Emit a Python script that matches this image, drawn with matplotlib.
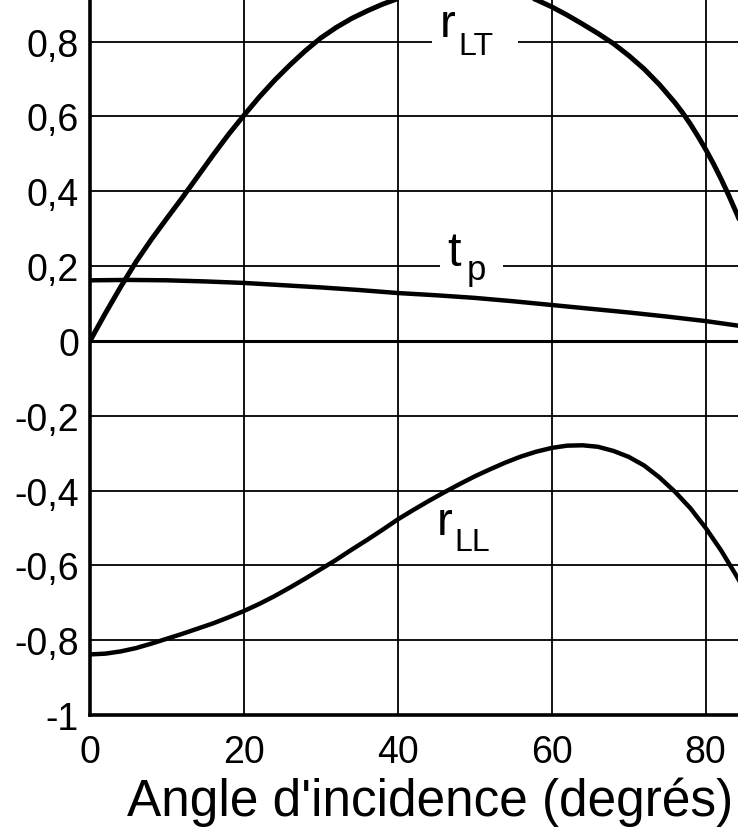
import numpy as np
import matplotlib.pyplot as plt

plt.rcParams['font.family'] = ['Liberation Sans', 'DejaVu Sans']

# angle of incidence (degrees) and the three curves
x_rlt = [0, 2, 4, 6, 8, 10, 12, 14, 16, 18, 20, 22, 24, 26, 28, 30, 32, 34,
         36, 38, 40, 42, 44, 46, 48, 50, 52, 54, 56, 58, 60, 62, 64, 66, 68,
         70, 72, 74, 76, 77, 78, 79, 80, 81, 82, 83, 84, 84.5]
y_rlt = [0, 0.074, 0.145, 0.212, 0.272, 0.328, 0.383, 0.44, 0.497, 0.552,
         0.603, 0.652, 0.697, 0.738, 0.776, 0.81, 0.838, 0.862, 0.882, 0.90,
         0.915, 0.928, 0.94, 0.948, 0.952, 0.952, 0.948, 0.94, 0.928, 0.912,
         0.893, 0.871, 0.847, 0.822, 0.795, 0.763, 0.727, 0.685, 0.637, 0.61,
         0.58, 0.547, 0.512, 0.474, 0.433, 0.389, 0.342, 0.318]

x_tp = [0, 5, 10, 15, 20, 25, 30, 35, 40, 45, 50, 55, 60, 65, 70, 75, 80, 84.5]
y_tp = [0.162, 0.163, 0.162, 0.159, 0.155, 0.149, 0.143, 0.136, 0.128, 0.122,
        0.115, 0.106, 0.096, 0.086, 0.076, 0.065, 0.053, 0.04]

x_rll = [0, 2, 4, 6, 8, 10, 12, 14, 16, 18, 20, 22, 24, 26, 28, 30, 32, 34,
         36, 38, 40, 42, 44, 46, 48, 50, 52, 54, 56, 58, 60, 62, 64, 66, 68,
         70, 72, 74, 76, 78, 80, 82, 84, 84.5]
y_rll = [-0.838, -0.836, -0.83, -0.821, -0.809, -0.796, -0.783, -0.769,
         -0.755, -0.739, -0.722, -0.703, -0.682, -0.659, -0.635, -0.61,
         -0.585, -0.558, -0.532, -0.505, -0.477, -0.452, -0.428, -0.405,
         -0.383, -0.362, -0.343, -0.325, -0.309, -0.296, -0.286, -0.28,
         -0.279, -0.283, -0.294, -0.31, -0.333, -0.365, -0.403, -0.447, -0.5,
         -0.56, -0.628, -0.646]

xticks = [0, 20, 40, 60, 80]
yticks = [-1, -0.8, -0.6, -0.4, -0.2, 0, 0.2, 0.4, 0.6, 0.8]
ytick_labels = ['-1', '-0,8', '-0,6', '-0,4', '-0,2', '0', '0,2', '0,4', '0,6', '0,8']

XMAX = 84.2
YMAX = 0.914

fig = plt.figure(figsize=(7.38, 8.29), dpi=100)
ax = fig.add_axes([90 / 738, 113 / 829, 648 / 738, 716 / 829])
ax.set_xlim(0, XMAX)
ax.set_ylim(-1, YMAX)

# grid: vertical lines everywhere, horizontal ones broken where the labels sit
gaps = {0.8: (44.4, 55.6), 0.2: (45.5, 53.6)}
for yv in yticks[1:]:
    if yv in gaps:
        a, b = gaps[yv]
        ax.hlines([yv, yv], [0, b], [a, XMAX], color='black', lw=1.3, zorder=1)
    else:
        ax.hlines(yv, 0, XMAX, color='black', lw=2.2 if yv == 0 else 1.3, zorder=1)
for xv in xticks[1:]:
    ax.axvline(xv, color='black', lw=1.3, zorder=1)

ax.plot(x_rlt, y_rlt, color='black', lw=3.6, zorder=3, solid_capstyle='round')
ax.plot(x_tp, y_tp, color='black', lw=3.2, zorder=3)
ax.plot(x_rll, y_rll, color='black', lw=3.2, zorder=3)

# curve labels
ax.text(45.5, 0.814, 'r', fontsize=34)
ax.text(47.9, 0.767, 'LT', fontsize=23)
ax.text(46.4, 0.204, 't', fontsize=35)
ax.text(48.9, 0.166, 'p', fontsize=25)
ax.text(45.1, -0.516, 'r', fontsize=34)
ax.text(47.4, -0.56, 'LL', fontsize=23)

ax.set_xticks(xticks)
ax.set_xticklabels([str(v) for v in xticks])
ax.set_yticks(yticks)
ax.set_yticklabels(ytick_labels)
ax.tick_params(axis='x', length=0, pad=14, labelsize=27)
ax.tick_params(axis='y', length=0, pad=8, labelsize=27)

for side in ['top', 'right']:
    ax.spines[side].set_visible(False)
for side in ['left', 'bottom']:
    ax.spines[side].set_linewidth(2.6)

fig.text(0.583, 0.032, "Angle d'incidence (degrés)", fontsize=37,
         ha='center', va='center')

fig.savefig('out.png', dpi=100)
